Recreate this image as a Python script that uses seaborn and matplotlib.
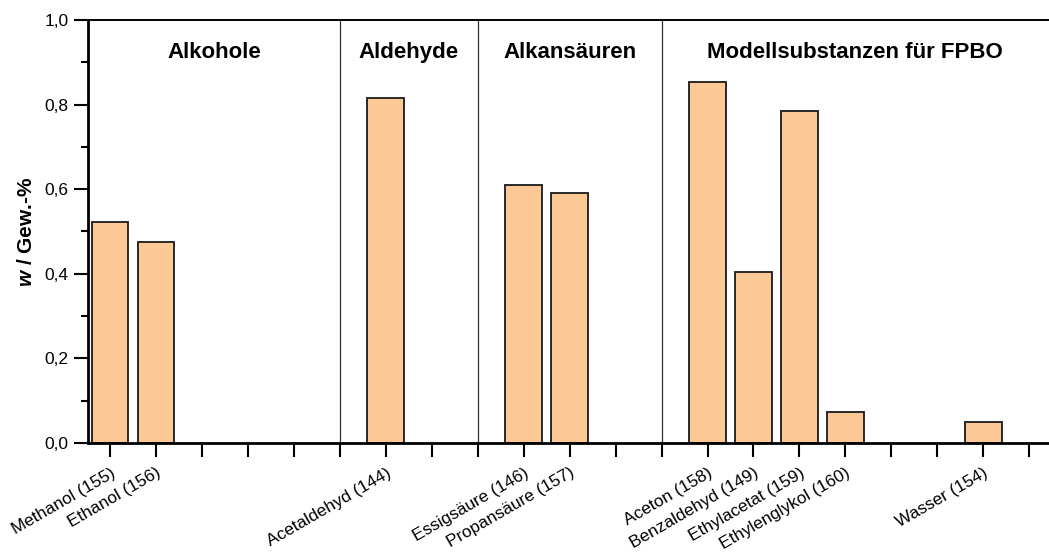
import matplotlib
matplotlib.use("Agg")
import matplotlib.pyplot as plt
import seaborn as sns
import pandas as pd
from matplotlib.ticker import MultipleLocator, FuncFormatter

# Data
substances = ["Methanol (155)", "Ethanol (156)", "Acetaldehyd (144)", "Essigsäure (146)",
              "Propansäure (157)", "Aceton (158)", "Benzaldehyd (149)", "Ethylacetat (159)",
              "Ethylenglykol (160)", "Wasser (154)"]
slots = [0, 1, 6, 9, 10, 13, 14, 15, 16, 19]
values = [0.522, 0.475, 0.816, 0.610, 0.591, 0.853, 0.404, 0.785, 0.073, 0.050]
groups = ["Alkohole", "Aldehyde", "Alkansäuren", "Modellsubstanzen für FPBO"]
group_bounds = [(-0.48, 5), (5, 8), (8, 12), (12, 20.43)]
separators = [5, 8, 12]
n_slots = 21

sns.set_theme(style="white")
plt.rcParams["font.family"] = ["Liberation Sans", "DejaVu Sans"]
plt.rcParams["mathtext.fontset"] = "custom"
plt.rcParams["mathtext.bfit"] = "Liberation Sans:italic:bold"
plt.rcParams["mathtext.it"] = "Liberation Sans:italic"
plt.rcParams["mathtext.bf"] = "Liberation Sans:bold"
for k in ["text.color", "axes.labelcolor", "xtick.color", "ytick.color", "axes.edgecolor"]:
    plt.rcParams[k] = "black"

df = pd.DataFrame({"pos": slots, "w": values, "name": substances})

fig = plt.figure(figsize=(10.49, 5.56), dpi=100)
ax = fig.add_axes([88 / 1049, 1 - 443 / 556, 1 - 88 / 1049, (443 - 20) / 556])

sns.barplot(data=df, x="pos", y="w", native_scale=True, width=0.8,
            color="#FBC896", saturation=1, edgecolor="#1a1a1a", linewidth=1.3, ax=ax)

for s in separators:
    ax.plot([s, s], [0, 1], color="#333333", lw=0.9, zorder=0.5)

for g, (a, b) in zip(groups, group_bounds):
    ax.text((a + b) / 2, 0.922, g, ha="center", va="center", fontsize=16, fontweight="bold")

ax.set_xlim(-0.48, 20.43)
ax.set_ylim(0, 1.0)

labels = [""] * n_slots
for p, n in zip(slots, substances):
    labels[p] = n
ax.set_xticks(range(n_slots))
ax.set_xticklabels(labels, rotation=30, ha="right", rotation_mode="anchor", fontsize=12.4)

ax.yaxis.set_major_locator(MultipleLocator(0.2))
ax.yaxis.set_minor_locator(MultipleLocator(0.1))
ax.yaxis.set_major_formatter(FuncFormatter(lambda v, p: f"{v:.1f}".replace(".", ",")))
ax.tick_params(axis="y", which="major", direction="out", length=10, width=1.5, labelsize=12.5, left=True, pad=4)
ax.tick_params(axis="y", which="minor", direction="out", length=5, width=1.5, left=True)
ax.tick_params(axis="x", which="major", direction="out", length=10, width=1.5, bottom=True, pad=6)

ax.set_xlabel("")
ax.set_ylabel(r"$\mathbfit{w}$ / Gew.-%", fontsize=15, fontweight="bold", labelpad=6)

for side in ["left", "bottom"]:
    ax.spines[side].set_linewidth(2)
    ax.spines[side].set_color("black")
ax.spines["top"].set_linewidth(1.4)
ax.spines["top"].set_color("black")
ax.spines["right"].set_visible(False)

fig.savefig("out.png", dpi=100)
